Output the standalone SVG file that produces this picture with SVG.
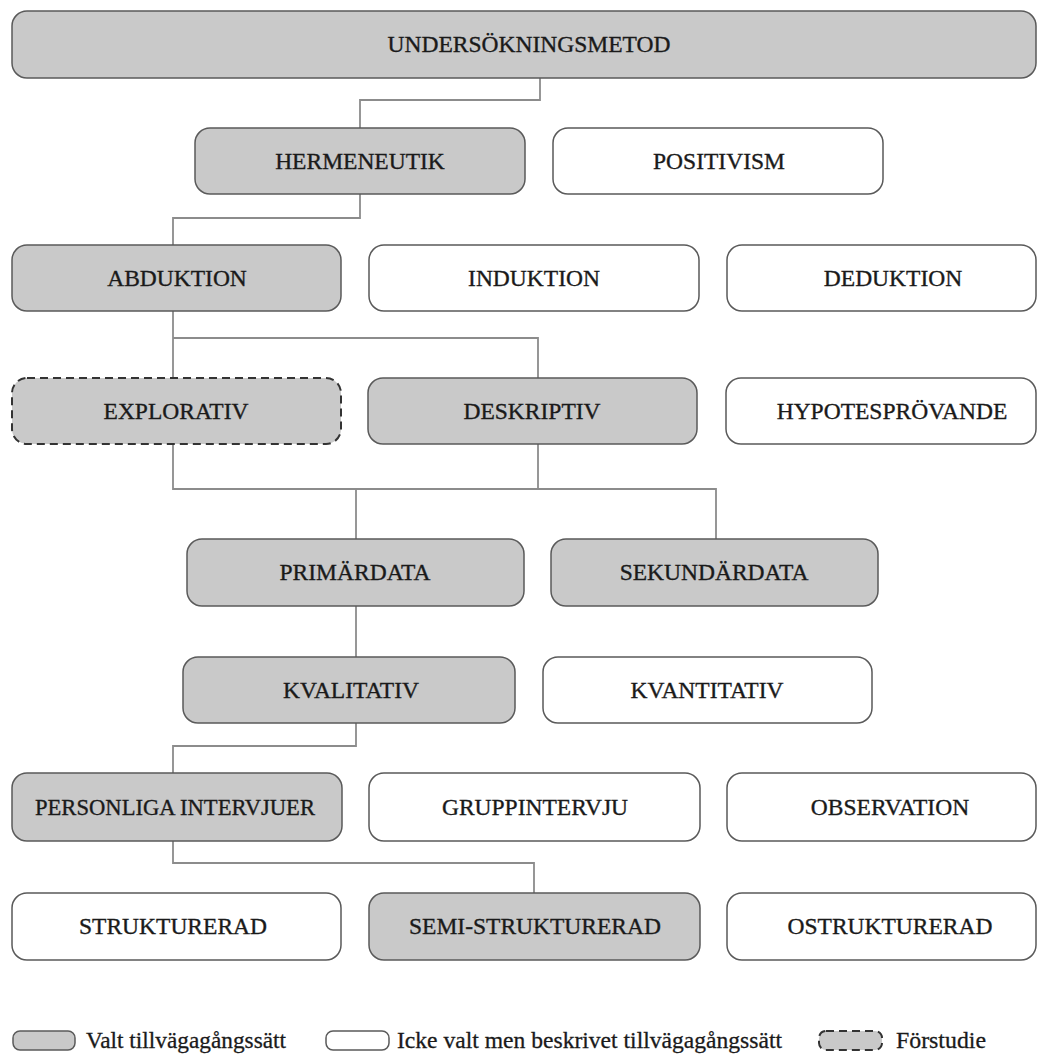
<svg xmlns="http://www.w3.org/2000/svg" width="1048" height="1059" viewBox="0 0 1048 1059">
<style>
.sel{fill:#c9c9c9;stroke:#5a5a5a;stroke-width:1.5}
.uns{fill:#ffffff;stroke:#5a5a5a;stroke-width:1.5}
.pre{fill:#c9c9c9;stroke:#333333;stroke-width:2;stroke-dasharray:8 5}
.lbl{font-family:"Liberation Serif","Times New Roman",serif;font-size:23.5px;fill:#1a1a1a;stroke:#1a1a1a;stroke-width:0.35;text-anchor:middle}
.leg{font-family:"Liberation Serif","Times New Roman",serif;font-size:24px;fill:#1a1a1a;stroke:#1a1a1a;stroke-width:0.3}
.con{fill:none;stroke:#8c8c8c;stroke-width:1.8}
</style>
<rect width="1048" height="1059" fill="#ffffff"/>
<g id="connectors" class="con">
<polyline points="540,78 540,100 360,100 360,128"/>
<polyline points="360,194 360,218 173,218 173,245"/>
<polyline points="173,311 173,378"/>
<polyline points="173,338 538,338 538,378"/>
<polyline points="173,444 173,489 716,489 716,539"/>
<polyline points="538,444 538,489"/>
<polyline points="356,489 356,539"/>
<polyline points="356,606 356,657"/>
<polyline points="356,723 356,746 173,746 173,773"/>
<polyline points="173,841 173,863 534,863 534,893"/>
</g>
<g id="n-undersokningsmetod"><rect class="sel" x="12" y="11" width="1024" height="67" rx="15"/><text class="lbl" x="529" y="52">UNDERSÖKNINGSMETOD</text></g>
<g id="n-hermeneutik"><rect class="sel" x="195" y="128" width="330" height="66" rx="15"/><text class="lbl" x="360" y="169">HERMENEUTIK</text></g>
<g id="n-positivism"><rect class="uns" x="553" y="128" width="330" height="66" rx="15"/><text class="lbl" x="719" y="169">POSITIVISM</text></g>
<g id="n-abduktion"><rect class="sel" x="12" y="245" width="329" height="66" rx="15"/><text class="lbl" x="177" y="286">ABDUKTION</text></g>
<g id="n-induktion"><rect class="uns" x="369" y="245" width="330" height="66" rx="15"/><text class="lbl" x="534" y="286">INDUKTION</text></g>
<g id="n-deduktion"><rect class="uns" x="727" y="245" width="309" height="66" rx="15"/><text class="lbl" x="893" y="286">DEDUKTION</text></g>
<g id="n-explorativ"><rect class="pre" x="12" y="378" width="329" height="66" rx="15"/><text class="lbl" x="176" y="419">EXPLORATIV</text></g>
<g id="n-deskriptiv"><rect class="sel" x="368" y="378" width="329" height="66" rx="15"/><text class="lbl" x="532" y="419">DESKRIPTIV</text></g>
<g id="n-hypotesprovande"><rect class="uns" x="726" y="378" width="310" height="66" rx="15"/><text class="lbl" x="892" y="419">HYPOTESPRÖVANDE</text></g>
<g id="n-primardata"><rect class="sel" x="187" y="539" width="337" height="67" rx="15"/><text class="lbl" x="355" y="580">PRIMÄRDATA</text></g>
<g id="n-sekundardata"><rect class="sel" x="551" y="539" width="327" height="67" rx="15"/><text class="lbl" x="714" y="580">SEKUNDÄRDATA</text></g>
<g id="n-kvalitativ"><rect class="sel" x="183" y="657" width="332" height="66" rx="15"/><text class="lbl" x="351" y="698">KVALITATIV</text></g>
<g id="n-kvantitativ"><rect class="uns" x="543" y="657" width="329" height="66" rx="15"/><text class="lbl" x="707" y="698">KVANTITATIV</text></g>
<g id="n-personliga"><rect class="sel" x="12" y="773" width="330" height="68" rx="15"/><text class="lbl" x="175" y="815" textLength="280" lengthAdjust="spacingAndGlyphs">PERSONLIGA INTERVJUER</text></g>
<g id="n-gruppintervju"><rect class="uns" x="369" y="773" width="331" height="68" rx="15"/><text class="lbl" x="535" y="815">GRUPPINTERVJU</text></g>
<g id="n-observation"><rect class="uns" x="727" y="773" width="309" height="68" rx="15"/><text class="lbl" x="890" y="815">OBSERVATION</text></g>
<g id="n-strukturerad"><rect class="uns" x="12" y="893" width="329" height="67" rx="15"/><text class="lbl" x="173" y="934">STRUKTURERAD</text></g>
<g id="n-semi"><rect class="sel" x="369" y="893" width="331" height="67" rx="15"/><text class="lbl" x="535" y="934">SEMI-STRUKTURERAD</text></g>
<g id="n-ostrukturerad"><rect class="uns" x="727" y="893" width="309" height="67" rx="15"/><text class="lbl" x="890" y="934">OSTRUKTURERAD</text></g>
<g id="legend">
<rect class="sel" x="13" y="1031" width="62" height="19" rx="7"/>
<text class="leg" x="86" y="1048" textLength="200" lengthAdjust="spacingAndGlyphs">Valt tillvägagångssätt</text>
<rect class="uns" x="326" y="1031" width="63" height="19" rx="7"/>
<text class="leg" x="397" y="1048" textLength="385" lengthAdjust="spacingAndGlyphs">Icke valt men beskrivet tillvägagångssätt</text>
<rect class="pre" x="819" y="1031" width="63" height="19" rx="7"/>
<text class="leg" x="896" y="1048" textLength="90" lengthAdjust="spacingAndGlyphs">Förstudie</text>
</g>
</svg>
